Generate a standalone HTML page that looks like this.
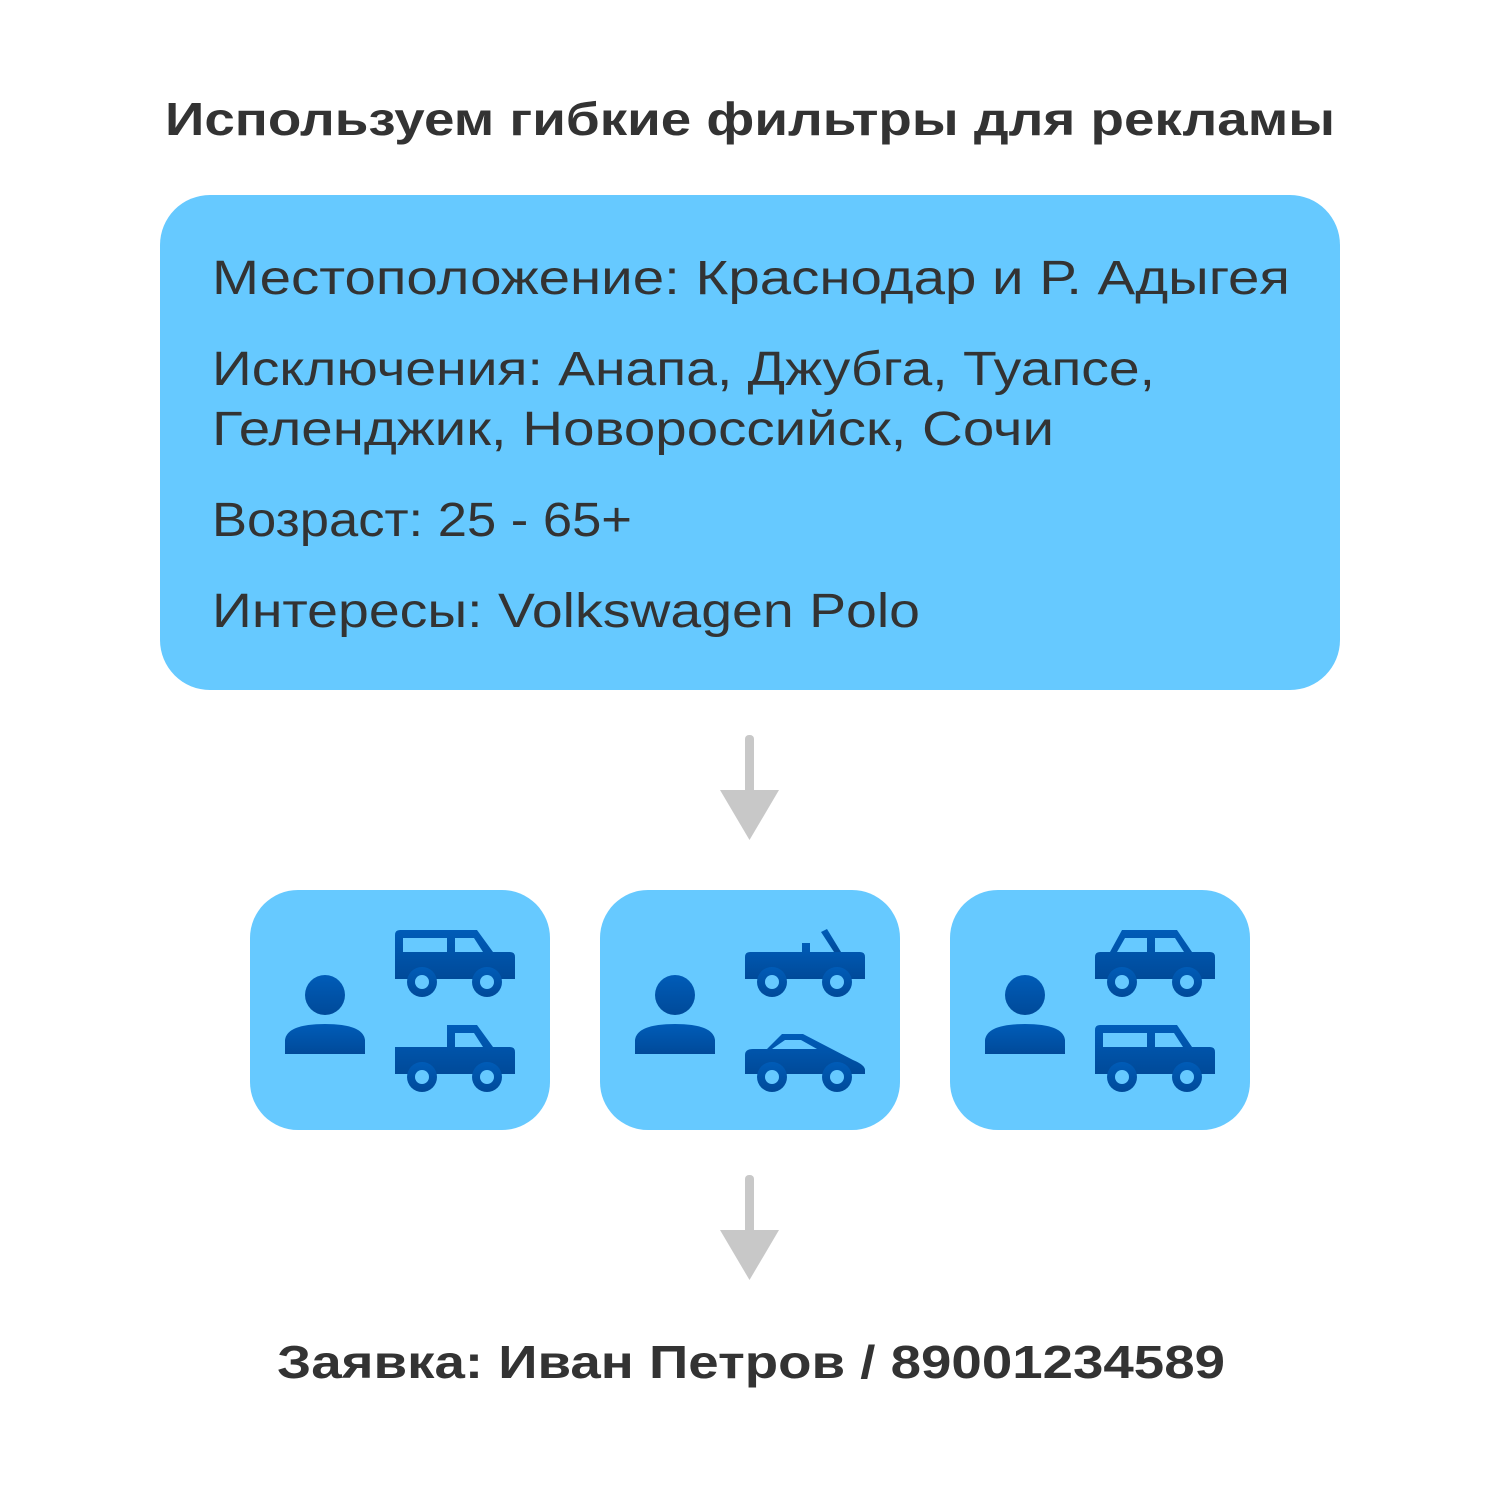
<!DOCTYPE html>
<html><head><meta charset="utf-8"><style>
html,body{margin:0;padding:0;background:#fff;}
svg{display:block}
text{font-family:"Liberation Sans",sans-serif;fill:#333333}
</style></head><body>
<svg width="1500" height="1500" viewBox="0 0 1500 1500" xmlns="http://www.w3.org/2000/svg">
<defs>
<linearGradient id="g" x1="0" y1="0" x2="0" y2="1"><stop offset="0" stop-color="#005cb8"/><stop offset="1" stop-color="#004a99"/></linearGradient>
<g id="person">
<circle cx="325" cy="995" r="20" fill="url(#g)"/>
<path d="M285 1054 L285 1040 Q287 1024 325 1024 Q363 1024 365 1040 L365 1054 Z" fill="url(#g)"/>
</g>
<g id="wheels">
<circle cx="27" cy="52" r="15" fill="url(#g)"/><circle cx="27" cy="52" r="7" fill="#66c9ff"/>
<circle cx="92" cy="52" r="15" fill="url(#g)"/><circle cx="92" cy="52" r="7" fill="#66c9ff"/>
</g>
<g id="suv">
<path d="M0 5 Q0 0 5 0 L82 0 L98 22 L115 22 Q120 22 120 27 L120 49 L0 49 Z" fill="url(#g)"/>
<rect x="8" y="8" width="44" height="14" fill="#66c9ff"/><path d="M60 8 L79 8 L88 22 L60 22Z" fill="#66c9ff"/>
<use href="#wheels"/>
</g>
<g id="pickup">
<path d="M52 0 L82 0 L98 22 L115 22 Q120 22 120 27 L120 49 L0 49 L0 22 L52 22 Z" fill="url(#g)"/>
<path d="M60 8 L79 8 L88 22 L60 22Z" fill="#66c9ff"/>
<use href="#wheels"/>
</g>
<g id="conv">
<path d="M0 27 Q0 22 5 22 L57 22 L57 13 L65 13 L65 22 L115 22 Q120 22 120 27 L120 49 L0 49 Z" fill="url(#g)"/>
<path d="M89 22 L76 2 L82 -1 L96 22Z" fill="url(#g)"/>
<use href="#wheels"/>
</g>
<g id="sport">
<path d="M0 30 Q0 24 8 24 L22 24 L37 9 L58 9 L108 35 Q120 40 120 45 L120 49 L0 49 Z" fill="url(#g)"/>
<path d="M27 24 L40 15 L56 15 L72 24Z" fill="#66c9ff"/>
<use href="#wheels"/>
</g>
<g id="sedan">
<path d="M0 27 Q0 22 5 22 L15 22 L27 0 L82 0 L97 22 L115 22 Q120 22 120 27 L120 49 L0 49 Z" fill="url(#g)"/>
<path d="M22 22 L30 8 L52 8 L52 22Z M60 8 L80 8 L89 22 L60 22Z" fill="#66c9ff"/>
<use href="#wheels"/>
</g>
<g id="van">
<path d="M0 5 Q0 0 5 0 L82 0 L97 22 L115 22 Q120 22 120 27 L120 49 L0 49 Z" fill="url(#g)"/>
<rect x="8" y="8" width="44" height="14" fill="#66c9ff"/><path d="M60 8 L79 8 L88 22 L60 22Z" fill="#66c9ff"/>
<use href="#wheels"/>
</g>
</defs>

<text x="165" y="135" font-size="46" font-weight="bold" textLength="1170" lengthAdjust="spacingAndGlyphs">Используем гибкие фильтры для рекламы</text>

<rect x="160" y="195" width="1180" height="495" rx="50" fill="#66c9ff"/>
<g font-size="48">
<text x="212" y="294" textLength="1078" lengthAdjust="spacingAndGlyphs">Местоположение: Краснодар и Р. Адыгея</text>
<text x="212" y="385" textLength="943" lengthAdjust="spacingAndGlyphs">Исключения: Анапа, Джубга, Туапсе,</text>
<text x="212" y="445" textLength="842" lengthAdjust="spacingAndGlyphs">Геленджик, Новороссийск, Сочи</text>
<text x="212" y="536" textLength="420" lengthAdjust="spacingAndGlyphs">Возраст: 25 - 65+</text>
<text x="212" y="627" textLength="708" lengthAdjust="spacingAndGlyphs">Интересы: Volkswagen Polo</text>
</g>

<g fill="#c8c8c8">
<rect x="745" y="735" width="9" height="60" rx="4"/><path d="M720 790 L779 790 L749.5 840Z"/>
<rect x="745" y="1175" width="9" height="60" rx="4"/><path d="M720 1230 L779 1230 L749.5 1280Z"/>
</g>

<rect x="250" y="890" width="300" height="240" rx="48" fill="#66c9ff"/>
<rect x="600" y="890" width="300" height="240" rx="48" fill="#66c9ff"/>
<rect x="950" y="890" width="300" height="240" rx="48" fill="#66c9ff"/>

<use href="#person"/>
<use href="#person" x="350"/>
<use href="#person" x="700"/>
<use href="#suv" x="395" y="930"/>
<use href="#pickup" x="395" y="1025"/>
<use href="#conv" x="745" y="930"/>
<use href="#sport" x="745" y="1025"/>
<use href="#sedan" x="1095" y="930"/>
<use href="#van" x="1095" y="1025"/>

<text x="277" y="1378" font-size="46" font-weight="bold" textLength="948" lengthAdjust="spacingAndGlyphs">Заявка: Иван Петров / 89001234589</text>
</svg>
</body></html>
